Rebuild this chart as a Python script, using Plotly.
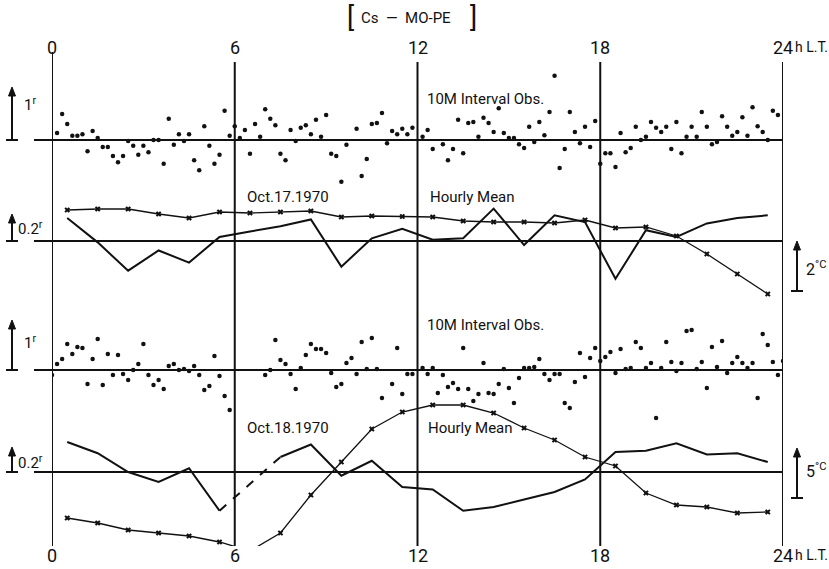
import plotly.graph_objects as go

# ---------------- data ----------------
tick_hours = [0, 6, 12, 18, 24]
tick_labels = ["0", "6", "12", "18", "24h L.T."]

hour_mid = [0.5, 1.5, 2.5, 3.5, 4.5, 5.5, 6.5, 7.5, 8.5, 9.5, 10.5, 11.5,
            12.5, 13.5, 14.5, 15.5, 16.5, 17.5, 18.5, 19.5, 20.5, 21.5, 22.5, 23.5]

# 10-minute interval observations (slot = number of 10-min steps after 0h), unit: r
obs17_slot = [1, 2, 3, 4, 5, 6, 7, 8, 9, 10, 11, 12, 13, 14, 15, 16, 17, 18, 19, 20,
              21, 22, 23, 24, 25, 26, 27, 28, 29, 30, 31, 32, 33, 34, 35, 36, 37, 38, 39, 40,
              41, 42, 43, 44, 45, 46, 47, 48, 49, 50, 51, 52, 53, 54, 55, 56, 57, 58, 60, 61,
              62, 63, 64, 65, 66, 67, 68, 69, 70, 71, 73, 74, 75, 77, 78, 79, 80, 81, 82, 83,
              84, 85, 86, 87, 88, 89, 90, 91, 92, 93, 94, 95, 96, 97, 98, 99, 100, 101, 102, 103,
              104, 105, 106, 107, 108, 109, 110, 111, 112, 113, 114, 115, 116, 117, 118, 119, 120, 121, 122, 123,
              124, 125, 126, 127, 128, 129, 130, 131, 132, 133, 134, 135, 136, 137, 138, 139, 140, 141, 142, 143]
obs17_val = [0.13, 0.49, 0.30, 0.08, 0.08, 0.11, -0.21, 0.17, 0.04, -0.13, -0.13, -0.30, -0.42, -0.30, -0.02, -0.11, -0.28, -0.11, -0.23, 0.0,
             0.0, -0.45, 0.40, -0.09, 0.11, -0.02, 0.11, -0.38, -0.57, 0.26, -0.11, -0.45, -0.28, 0.55, 0.08, 0.26, 0.04, 0.19, -0.26, 0.30,
             0.06, 0.58, 0.40, 0.28, -0.26, -0.38, 0.19, -0.02, 0.23, 0.28, 0.11, 0.38, 0.06, 0.47, -0.26, -0.30, -0.79, -0.09, 0.21, -0.68,
             -0.36, 0.30, 0.32, 0.51, -0.06, 0.17, 0.11, 0.21, 0.11, 0.23, 0.06, 0.19, -0.17, -0.08, -0.38, -0.17, 0.38, -0.25, 0.32, 0.34,
             0.06, 0.42, 0.32, 0.15, 0.60, 0.13, 0.04, 0.04, -0.08, -0.15, 0.25, -0.04, 0.34, 0.09, 0.53, 1.21, -0.53, -0.17, 0.53, 0.15,
             -0.06, 0.25, -0.13, 0.36, -0.45, -0.25, -0.25, -0.51, 0.13, -0.23, -0.15, 0.25, 0.0, 0.06, 0.34, 0.23, 0.15, 0.25, -0.17, 0.34,
             -0.25, 0.06, 0.25, 0.06, 0.53, 0.25, -0.08, -0.04, 0.45, 0.25, 0.08, 0.15, 0.43, 0.08, 0.62, 0.26, 0.15, 0.0, 0.55, 0.47]

obs18_slot = [0, 1, 2, 3, 4, 5, 6, 7, 8, 9, 10, 11, 12, 13, 14, 15, 16, 17, 18, 19,
              20, 21, 22, 23, 24, 25, 26, 27, 28, 29, 30, 31, 32, 33, 34, 35, 42, 43, 44, 45,
              46, 47, 48, 49, 50, 51, 52, 53, 54, 55, 56, 57, 58, 59, 60, 61, 62, 63, 64, 65,
              67, 68, 69, 70, 71, 73, 74, 75, 76, 77, 78, 79, 80, 81, 82, 83, 84, 85, 86, 87,
              88, 89, 90, 91, 92, 93, 94, 95, 96, 97, 98, 99, 100, 101, 102, 103, 104, 105, 106, 107,
              108, 109, 110, 111, 112, 113, 114, 115, 116, 117, 118, 119, 120, 121, 122, 123, 124, 125, 126, 127,
              128, 129, 130, 131, 132, 133, 134, 135, 136, 137, 138, 139, 140, 141, 142, 143, 144]
obs18_val = [-0.10, 0.12, 0.22, 0.52, 0.32, 0.46, 0.44, -0.28, 0.22, 0.62, -0.30, 0.32, -0.10, 0.30, -0.08, -0.20, 0.0, 0.12, 0.52, -0.10,
             -0.30, -0.20, -0.38, 0.08, 0.12, 0.0, 0.02, -0.02, 0.08, -0.10, -0.40, -0.32, 0.28, -0.12, -0.52, -0.80, -0.10, 0.0, 0.60, 0.20,
             0.12, -0.08, -0.38, 0.04, 0.30, 0.52, 0.42, 0.42, 0.34, -0.06, -0.34, -0.28, 0.14, 0.24, -0.08, 0.56, 0.02, 0.64, 0.02, -0.56,
             -0.28, 0.44, -0.48, -0.08, -0.08, 0.04, -0.08, 0.04, -0.46, -0.10, -0.34, -0.26, -0.38, 0.44, -0.38, -0.62, -0.48, 0.14, -0.46, -0.48,
             -0.28, 0.02, -0.36, -0.66, -0.16, 0.04, 0.04, 0.06, 0.22, -0.08, -0.20, -0.08, -0.08, -0.66, -0.76, -0.24, 0.34, -0.14, 0.24, 0.44,
             0.18, 0.26, 0.36, -0.06, 0.42, 0.02, 0.04, 0.56, 0.44, 0.04, 0.14, -0.96, 0.04, 0.56, 0.16, -0.02, 0.14, 0.78, 0.80, 0.02,
             0.16, -0.36, 0.46, 0.06, 0.58, -0.06, 0.14, 0.26, 0.14, 0.04, 0.14, -0.56, 0.72, 0.50, 0.16, -0.10, 0.18]

# hourly means: r and temperature (deg C, relative)
r17 = [0.17, -0.01, -0.22, -0.07, -0.16, 0.03, 0.07, 0.11, 0.16, -0.19, 0.02, 0.09,
       0.01, 0.02, 0.24, -0.03, 0.19, 0.14, -0.28, 0.08, 0.03, 0.13, 0.17, 0.19]
temp17 = [1.24, 1.28, 1.28, 1.08, 0.92, 1.16, 1.12, 1.16, 1.20, 0.96, 1.00, 0.98,
          0.96, 0.80, 0.76, 0.76, 0.72, 0.84, 0.52, 0.56, 0.20, -0.52, -1.32, -2.12]
r18 = [0.24, 0.15, 0.00, -0.08, 0.03, -0.31, None, 0.12, 0.22, -0.03, 0.09, -0.12,
       -0.14, -0.31, -0.28, -0.22, -0.16, -0.06, 0.16, 0.17, 0.23, 0.14, 0.15, 0.08]
temp18 = [-4.6, -5.1, -5.8, -6.1, -6.4, -7.0, -7.9, -6.1, -2.3, 1.0, 4.3, 6.0,
          6.7, 6.7, 5.9, 4.4, 3.2, 1.5, 0.6, -2.1, -3.3, -3.5, -4.1, -4.0]

# ---------------- layout geometry (page pixel coords) ----------------
W, H = 829, 569
L, R, T, B = 52, 783, 62, 546
FONT = "Roboto, Liberation Sans, sans-serif"
INK = "#111111"

# panel axes: (axis name, baseline pixel row, pixels per unit)
AXES = {"y": (140, 53), "y2": (241, 135), "y3": (241, 25),
        "y4": (370, 50), "y5": (472, 125), "y6": (472, 10)}


def yrange(base_px, px_per_unit):
    return [(base_px - B) / px_per_unit, (base_px - T) / px_per_unit]


def px_x(px):
    return (px - L) / (R - L)


def px_y(px):
    return (B - px) / (B - T)


slot_h = 10 / 60.0
fig = go.Figure()

fig.add_trace(go.Scatter(x=[s * slot_h for s in obs17_slot], y=obs17_val, yaxis="y",
                         mode="markers", marker=dict(size=4.5, color=INK), showlegend=False))
fig.add_trace(go.Scatter(x=hour_mid, y=r17, yaxis="y2", mode="lines",
                         line=dict(color=INK, width=2), showlegend=False))
fig.add_trace(go.Scatter(x=hour_mid, y=temp17, yaxis="y3", mode="lines+markers",
                         line=dict(color=INK, width=1.3),
                         marker=dict(symbol="x", size=5, color=INK), showlegend=False))
fig.add_trace(go.Scatter(x=[s * slot_h for s in obs18_slot], y=obs18_val, yaxis="y4",
                         mode="markers", marker=dict(size=4.5, color=INK), showlegend=False))
fig.add_trace(go.Scatter(x=hour_mid, y=r18, yaxis="y5", mode="lines", connectgaps=False,
                         line=dict(color=INK, width=2), showlegend=False))
gap = r18.index(None)
fig.add_trace(go.Scatter(x=[hour_mid[gap - 1], hour_mid[gap + 1]], y=[r18[gap - 1], r18[gap + 1]],
                         yaxis="y5", mode="lines", line=dict(color=INK, width=2, dash="dash"),
                         showlegend=False))
fig.add_trace(go.Scatter(x=hour_mid, y=temp18, yaxis="y6", mode="lines+markers",
                         line=dict(color=INK, width=1.3),
                         marker=dict(symbol="x", size=5, color=INK), showlegend=False))

axis_common = dict(visible=False, showgrid=False, zeroline=False, fixedrange=True)
layout_axes = {}
for i, (name, (base, s)) in enumerate(AXES.items()):
    key = "yaxis" if name == "y" else "yaxis" + name[1:]
    d = dict(range=yrange(base, s), **axis_common)
    if name != "y":
        d["overlaying"] = "y"
    layout_axes[key] = d

fig.update_layout(
    width=W, height=H,
    margin=dict(l=L, r=W - R, t=T, b=H - B, pad=0),
    paper_bgcolor="white", plot_bgcolor="white",
    xaxis=dict(range=[0, 24], **axis_common),
    font=dict(family=FONT, color=INK),
    **layout_axes,
)

shapes = []
for h in tick_hours:
    shapes.append(dict(type="line", xref="x", yref="paper", x0=h, x1=h, y0=0,
                       y1=px_y(52) if h == 0 else 1, line=dict(color=INK, width=2)))
for yr in ["y", "y2", "y4", "y5"]:
    shapes.append(dict(type="line", xref="paper", yref=yr, x0=px_x(34), x1=1, y0=0, y1=0,
                       line=dict(color=INK, width=2)))


def scale_arrow(yr, xpx, tail, head):
    """vertical scale bar: foot at `tail`, filled arrow head at `head` (axis units)."""
    s = AXES[yr][1]
    hh, hw = 9.0 / s, 3.5  # head height (units), half width (px)
    out = [dict(type="line", xref="paper", yref=yr, x0=px_x(xpx - 6), x1=px_x(xpx + 6),
                y0=tail, y1=tail, line=dict(color=INK, width=2)),
           dict(type="line", xref="paper", yref=yr, x0=px_x(xpx), x1=px_x(xpx),
                y0=tail, y1=head - hh * 0.6, line=dict(color=INK, width=2)),
           dict(type="path", xref="paper", yref=yr,
                path=f"M {px_x(xpx - hw)},{head - hh} L {px_x(xpx + hw)},{head - hh} L {px_x(xpx)},{head} Z",
                fillcolor=INK, line=dict(color=INK, width=1))]
    return out


shapes += scale_arrow("y", 12, 0, 1.0)
shapes += scale_arrow("y2", 12, 0, 0.2)
shapes += scale_arrow("y4", 12, 0, 1.0)
shapes += scale_arrow("y5", 12, 0, 0.2)
shapes += scale_arrow("y3", 797, -2.0, 0.0)
shapes += scale_arrow("y6", 797, -2.6, 2.4)
fig.update_layout(shapes=shapes)

ann = []
tick_font = dict(size=18, family=FONT, color=INK)
for h, lab in zip(tick_hours, tick_labels):
    for yv in (px_y(47), px_y(555)):
        if lab.isdigit():
            ann.append(dict(x=h, y=yv, xref="x", yref="paper", text=lab, showarrow=False,
                            xanchor="center", yanchor="middle", font=tick_font))
        else:
            num = lab[:2]
            rest = lab[2:].strip()
            ann.append(dict(x=h, y=yv, xref="x", yref="paper", text=num, showarrow=False,
                            xanchor="center", yanchor="middle", font=tick_font))
            ann.append(dict(x=h, y=yv, xref="x", yref="paper", text=rest, showarrow=False,
                            xanchor="left", xshift=10, yanchor="middle",
                            font=dict(size=14, family=FONT, color=INK)))
# title
for px, text, size in [(350, "[", 27), (406, "Cs  —  MO-PE", 15), (473, "]", 27)]:
    ann.append(dict(x=px_x(px), y=px_y(18), xref="paper", yref="paper", showarrow=False, text=text,
                    xanchor="center", yanchor="middle", font=dict(size=size, family=FONT, color=INK)))
# panel texts
txt = dict(size=15, family=FONT, color=INK)
ann += [
    dict(x=12.25, y=0.77, xref="x", yref="y", text="10M Interval Obs.", showarrow=False, xanchor="left", font=txt),
    dict(x=6.34, y=0.326, xref="x", yref="y2", text="Oct.17.1970", showarrow=False, xanchor="left", font=txt),
    dict(x=12.34, y=0.326, xref="x", yref="y2", text="Hourly Mean", showarrow=False, xanchor="left", font=txt),
    dict(x=12.25, y=0.9, xref="x", yref="y4", text="10M Interval Obs.", showarrow=False, xanchor="left", font=txt),
    dict(x=6.34, y=0.352, xref="x", yref="y5", text="Oct.18.1970", showarrow=False, xanchor="left", font=txt),
    dict(x=12.28, y=0.352, xref="x", yref="y5", text="Hourly Mean", showarrow=False, xanchor="left", font=txt),
]
# scale labels
for yr, lab, labx, laby, size in [("y", "1<sup>r</sup>", 22, 0.68, 15),
                                   ("y2", "0.2<sup>r</sup>", 16, 0.096, 15),
                                   ("y4", "1<sup>r</sup>", 22, 0.56, 15),
                                   ("y5", "0.2<sup>r</sup>", 16, 0.08, 15),
                                   ("y3", "2<sup>°C</sup>", 804, -1.08, 16),
                                   ("y6", "5<sup>°C</sup>", 804, 0.2, 16)]:
    ann.append(dict(x=px_x(labx), y=laby, xref="paper", yref=yr, text=lab, showarrow=False,
                    xanchor="left", yanchor="middle", font=dict(size=size, family=FONT, color=INK)))
fig.update_layout(annotations=ann)

fig.write_html("out.html", config={"displayModeBar": False},
               post_script="document.body.style.margin='0px';")
